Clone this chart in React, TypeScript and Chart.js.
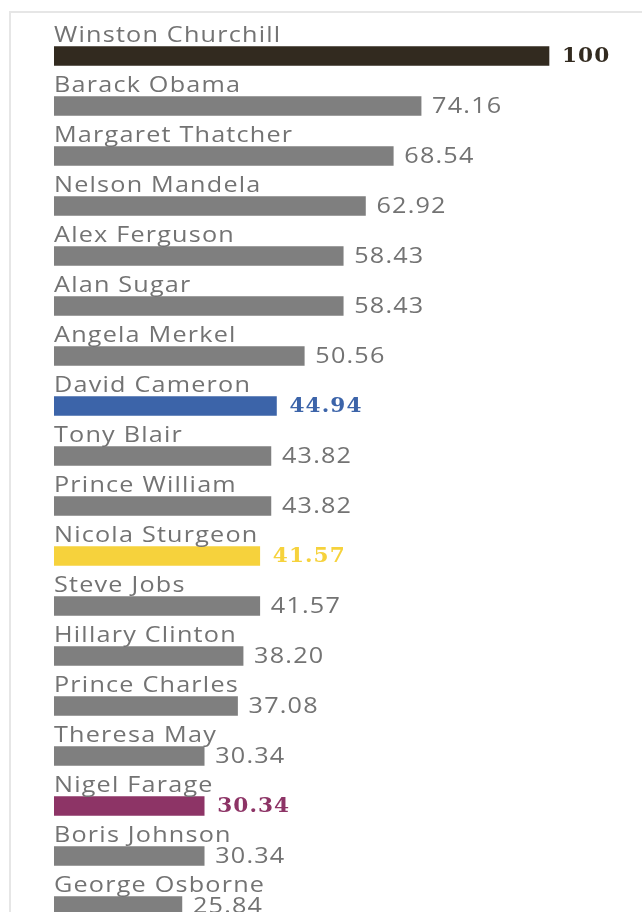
import React, { useEffect, useRef } from "react";
import { Chart, registerables } from "chart.js";

Chart.register(...registerables);

const names: string[] = [
  "Winston Churchill",
  "Barack Obama",
  "Margaret Thatcher",
  "Nelson Mandela",
  "Alex Ferguson",
  "Alan Sugar",
  "Angela Merkel",
  "David Cameron",
  "Tony Blair",
  "Prince William",
  "Nicola Sturgeon",
  "Steve Jobs",
  "Hillary Clinton",
  "Prince Charles",
  "Theresa May",
  "Nigel Farage",
  "Boris Johnson",
  "George Osborne",
];

const scores: number[] = [
  100, 74.16, 68.54, 62.92, 58.43, 58.43, 50.56, 44.94, 43.82, 43.82, 41.57,
  41.57, 38.2, 37.08, 30.34, 30.34, 30.34, 25.84,
];

const valueLabels: string[] = [
  "100", "74.16", "68.54", "62.92", "58.43", "58.43", "50.56", "44.94", "43.82",
  "43.82", "41.57", "41.57", "38.20", "37.08", "30.34", "30.34", "30.34", "25.84",
];

const GREY = "#7f7f7f";
const TEXT_GREY = "#737373";
const highlight: Record<string, string> = {
  "Winston Churchill": "#322a1f",
  "David Cameron": "#3c64a9",
  "Nicola Sturgeon": "#f6d23c",
  "Nigel Farage": "#8d3466",
};

function stretchedText(
  ctx: CanvasRenderingContext2D,
  text: string,
  x: number,
  y: number,
  sx: number
) {
  ctx.save();
  ctx.translate(x, y);
  ctx.scale(sx, 1);
  ctx.fillText(text, 0, 0);
  ctx.restore();
}

const labelPlugin = {
  id: "rowLabels",
  afterDatasetsDraw(chart: any) {
    const ctx = chart.ctx as CanvasRenderingContext2D;
    const meta = chart.getDatasetMeta(0);
    const left = chart.chartArea.left;
    ctx.save();
    meta.data.forEach((el: any, i: number) => {
      const name = names[i];
      const hl = highlight[name];
      ctx.font = '21px "Open Sans"';
      (ctx as any).letterSpacing = "1px";
      ctx.fillStyle = TEXT_GREY;
      ctx.textAlign = "left";
      ctx.textBaseline = "alphabetic";
      stretchedText(ctx, name, left, el.y - 14, 1.2);
      ctx.textBaseline = "middle";
      if (hl) {
        ctx.font = 'bold 20px "DejaVu Serif"';
        (ctx as any).letterSpacing = "1px";
        ctx.fillStyle = hl;
        stretchedText(ctx, valueLabels[i], el.x + 13, el.y + 1, 1.08);
      } else {
        ctx.font = '21px "Open Sans"';
        (ctx as any).letterSpacing = "1px";
        ctx.fillStyle = TEXT_GREY;
        stretchedText(ctx, valueLabels[i], el.x + 11, el.y + 1, 1.2);
      }
    });
    ctx.restore();
  },
};

export default function App() {
  const ref = useRef<HTMLCanvasElement | null>(null);
  useEffect(() => {
    if (!ref.current) return;
    const chart = new Chart(ref.current, {
      type: "bar",
      data: {
        labels: names,
        datasets: [
          {
            data: scores,
            backgroundColor: names.map((n) => highlight[n] || GREY),
            barThickness: 19,
            borderWidth: 0,
          },
        ],
      },
      options: {
        indexAxis: "y",
        animation: false,
        responsive: false,
        maintainAspectRatio: false,
        layout: { padding: { left: 43, right: 43.5, top: 18, bottom: 12 } },
        scales: {
          x: { display: false, min: 0, max: 110 },
          y: { display: false, grid: { display: false } },
        },
        plugins: {
          legend: { display: false },
          tooltip: { enabled: false },
        },
      },
      plugins: [labelPlugin],
    });
    return () => chart.destroy();
  }, []);

  return (
    <div
      style={{
        position: "fixed",
        left: 9,
        top: 11,
        width: 633,
        height: 901,
        overflow: "hidden",
        borderTop: "2px solid #e6e6e6",
        borderLeft: "2px solid #e6e6e6",
        background: "#ffffff",
      }}
    >
      <canvas ref={ref} width={631} height={930} style={{ display: "block" }} />
    </div>
  );
}
